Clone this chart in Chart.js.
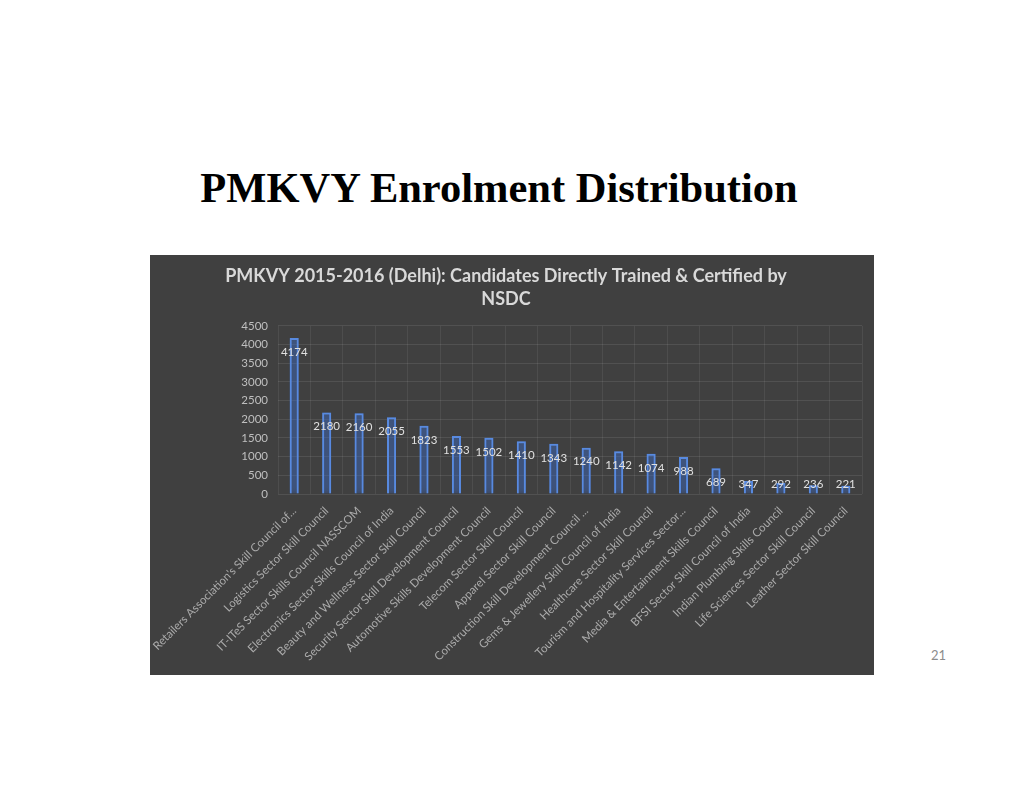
<!DOCTYPE html>
<html>
<head>
<meta charset="utf-8">
<script src="https://cdn.jsdelivr.net/npm/chart.js@4.4.0/dist/chart.umd.min.js"></script>
<style>
  html, body { margin: 0; padding: 0; background: #fff; }
  body { width: 1024px; height: 791px; position: relative; overflow: hidden; }
  #slide-title {
    position: absolute; left: 0; width: 998px; top: 167px;
    text-align: center; font: bold 42.5px "Liberation Serif", "Times New Roman", serif;
    line-height: 42px; color: #000;
  }
  #panel { position: absolute; left: 150px; top: 255px; width: 724px; height: 420px; background: #404040; }
  #page-num { position: absolute; left: 931px; top: 647px; font: 13px Lato, sans-serif; color: #8c8c8c; }
</style>
</head>
<body>
<div id="slide-title">PMKVY Enrolment Distribution</div>
<div id="panel"><canvas id="chart" width="724" height="420"></canvas></div>
<div id="page-num">21</div>
<script>
// Chart data
const chartTitle = ['PMKVY 2015-2016 (Delhi): Candidates Directly Trained & Certified by', 'NSDC'];
const councils = [
  "Retailers Association's Skill Council of...",
  'Logistics Sector Skill Council',
  'IT-ITeS Sector Skills Council NASSCOM',
  'Electronics Sector Skills Council of India',
  'Beauty and Wellness Sector Skill Council',
  'Security Sector Skill Development Council',
  'Automotive Skills Development Council',
  'Telecom Sector Skill Council',
  'Apparel Sector Skill Council',
  'Construction Skill Development Council ...',
  'Gems & Jewellery Skill Council of India',
  'Healthcare Sector Skill Council',
  'Tourism and Hospitality Services Sector...',
  'Media & Entertainment Skills Council',
  'BFSI Sector Skill Council of India',
  'Indian Plumbing Skills Council',
  'Life Sciences Sector Skill Council',
  'Leather Sector Skill Council'
];
const candidates = [4174, 2180, 2160, 2055, 1823, 1553, 1502, 1410, 1343, 1240, 1142, 1074, 988, 689, 347, 292, 236, 221];
const yMax = 4500;
const yStep = 500;

// glow around the bars + value labels below each bar top
const glowAndLabels = {
  id: 'glowAndLabels',
  beforeDatasetsDraw(chart) {
    const c = chart.ctx;
    c.save();
    c.shadowColor = 'rgba(70, 130, 235, 0.9)';
    c.shadowBlur = 7;
  },
  afterDatasetsDraw(chart) {
    const c = chart.ctx;
    c.restore();
    const bottom = chart.chartArea.bottom;
    c.save();
    c.fillStyle = '#e0e0e0';
    c.font = '11.5px Lato, sans-serif';
    c.textAlign = 'center';
    c.textBaseline = 'middle';
    chart.getDatasetMeta(0).data.forEach((bar, i) => {
      const y = Math.min(bar.y + 14, bottom - 10);
      c.fillText(String(candidates[i]), bar.x, y);
    });
    c.restore();
  }
};

const ctx = document.getElementById('chart').getContext('2d');
new Chart(ctx, {
  type: 'bar',
  data: {
    labels: councils,
    datasets: [{
      data: candidates,
      backgroundColor: 'rgba(55, 85, 150, 0.18)',
      borderColor: '#5a8be0',
      borderWidth: 2,
      categoryPercentage: 1,
      barPercentage: 0.28
    }]
  },
  options: {
    responsive: false,
    animation: false,
    layout: { padding: { left: 0, right: 12, top: 0, bottom: 0 } },
    plugins: {
      legend: { display: false },
      tooltip: { enabled: false },
      title: {
        display: true,
        text: chartTitle,
        color: '#d9d9d9',
        font: { family: 'Lato, sans-serif', size: 18, weight: 'bold', lineHeight: 1.3 },
        padding: { top: 9, bottom: 15 }
      }
    },
    scales: {
      y: {
        min: 0,
        max: yMax,
        ticks: {
          stepSize: yStep, color: '#bfbfbf', padding: 10,
          font: { family: 'Lato, sans-serif', size: 11.5 },
          callback: (v) => String(v)
        },
        grid: { color: 'rgba(255,255,255,0.09)', drawTicks: false },
        border: { display: false },
        afterFit(scale) { scale.width = 128; }
      },
      x: {
        ticks: {
          color: '#ababab',
          font: { family: 'Lato, sans-serif', size: 11.5 },
          minRotation: 45, maxRotation: 45, autoSkip: false, padding: 10
        },
        grid: { color: 'rgba(255,255,255,0.07)', offset: true, drawTicks: false },
        border: { display: false },
        afterFit(scale) {
          scale.height = 181;
          scale.paddingLeft = 0;
          scale.paddingRight = 0;
        }
      }
    }
  },
  plugins: [glowAndLabels]
});
</script>
</body>
</html>
